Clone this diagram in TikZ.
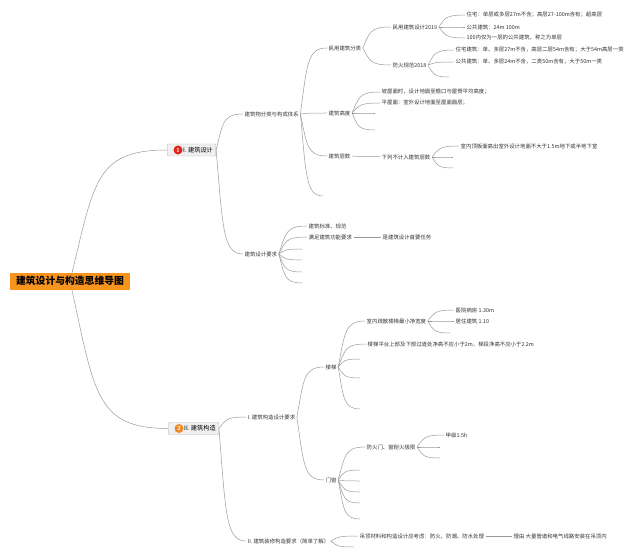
\documentclass[tikz,border=0pt]{standalone}
\usepackage{fontspec}
\newfontfamily\cjk{Noto Sans CJK SC}
\usetikzlibrary{calc}
\definecolor{naranja}{HTML}{F7941D}
\definecolor{rojo}{HTML}{E0281A}
\definecolor{naranjados}{HTML}{EE8A2A}
\definecolor{linea}{HTML}{9A9A9A}
\begin{document}
\begin{tikzpicture}[x=1pt, y=-1pt,
    hoja/.style={font=\cjk\fontsize{5.4}{6}\selectfont, text=black!80, inner sep=1.5pt, anchor=west},
    tema/.style={draw=gray!55, fill=gray!12, rounded corners=1pt, minimum height=12pt, inner xsep=3pt, inner ysep=0pt, anchor=west, font=\cjk\fontsize{6.2}{7}\selectfont},
    raiz/.style={fill=naranja, minimum width=120pt, minimum height=17pt, inner sep=0pt, font=\cjk\bfseries\fontsize{9.8}{11}\selectfont},
    bola/.style={circle, fill=#1, text=white, inner sep=0pt, minimum size=9pt, font=\sffamily\bfseries\fontsize{6}{6}\selectfont},
    rama/.style={draw=linea, line width=0.5pt},
    twig/.style={to path={let \p1=(\tikztostart), \p2=(\tikztotarget) in .. controls ({\x1+0.25*(\x2-\x1)},{\y1+0.75*(\y2-\y1)}) and ({\x1+0.25*(\x2-\x1)},\y2) .. (\tikztotarget)}}]
    \useasboundingbox (0,0) rectangle (640,556);
    % Raiz y temas
    \node[raiz] (raiz) at (70,281) {建筑设计与构造思维导图};
    \node[tema] (n1) at (167,150) {\hspace{13pt}I. 建筑设计};
    \node[bola=rojo] (uno) at (178,150) {1};
    \node[tema] (n2) at (168,428.5) {\hspace{13pt}II. 建筑构造};
    \node[bola=naranjados] (dos) at (179,428.5) {2};
    % Rama I
    \node[hoja] (a1) at (243,114) {建筑物分类与构成体系};
    \node[hoja] (a2) at (243,254) {建筑设计要求};
    \node[hoja] (b1) at (327,48) {民用建筑分类};
    \node[hoja] (b2) at (327,113) {建筑高度};
    \node[hoja] (b3) at (327,156) {建筑层数};
    \node[hoja] (c1) at (391,27) {民用建筑设计2019};
    \node[hoja] (c2) at (391,65) {防火规范2018};
    \node[hoja] (d1) at (465,15) {住宅：单层或多层27m不含；高层27-100m含有；超高层};
    \node[hoja] (d2) at (465,27) {公共建筑：24m 100m};
    \node[hoja] (d3) at (465,38) {100内仅为一层的公共建筑，称之为单层};
    \node[hoja] (d4) at (454,50) {住宅建筑：单、多层27m不含，高层二层54m含有；大于54m高层一类};
    \node[hoja] (d5) at (454,62) {公共建筑：单、多层24m不含，二类50m含有，大于50m一类};
    \node[hoja] (d6) at (380,92) {坡屋面时，设计地面至檐口与屋脊平均高度；};
    \node[hoja] (d7) at (380,103) {平屋面：室外设计地面至屋面面层；};
    \node[hoja] (c3) at (380,157) {下列不计入建筑层数};
    \node[hoja] (d8) at (459,146) {室内顶板面高出室外设计地面不大于1.5m地下或半地下室};
    \node[hoja] (b4) at (307,226) {建筑标准、规范};
    \node[hoja] (b5) at (307,237) {满足建筑功能要求};
    \node[hoja] (c4) at (381,237) {是建筑设计首要任务};
    % Rama II
    \node[hoja] (a3) at (246,417) {I. 建筑构造设计要求};
    \node[hoja] (a4) at (246,541) {II. 建筑装修构造要求（简单了解）};
    \node[hoja] (b6) at (324,367) {楼梯};
    \node[hoja] (b7) at (324,480) {门窗};
    \node[hoja] (c5) at (365,321) {室内疏散楼梯最小净宽度};
    \node[hoja] (c6) at (366,344) {楼梯平台上部及下部过道处净高不应小于2m，梯段净高不应小于2.2m};
    \node[hoja] (d9) at (454,310) {医院病房 1.30m};
    \node[hoja] (d10) at (454,321) {居住建筑 1.10};
    \node[hoja] (c7) at (365,447) {防火门、窗耐火极限};
    \node[hoja] (d11) at (444,435) {甲级1.5h};
    \node[hoja] (c8) at (358,536) {吊顶材料和构造设计应考虑：防火、防潮、防水处理};
    \node[hoja] (d12) at (512,536) {理由 大量管道和电气线路安装在吊顶内};
    % Ramas vacias
    \coordinate (e1) at (323,196);
    \coordinate (e2) at (449,77);
    \coordinate (e3) at (375,113);
    \coordinate (e4) at (375,130);
    \coordinate (e5) at (453,157);
    \coordinate (e6) at (453,168);
    \foreach \n/\y in {7/249,8/260,9/272,10/283} \coordinate (e\n) at (302,\y);
    \foreach \n/\y in {11/359,12/378,13/409} \coordinate (e\n) at (360,\y);
    \coordinate (e14) at (450,333);
    \foreach \n/\y in {15/470,16/481,17/492,18/503,19/519} \coordinate (e\n) at (360,\y);
    \coordinate (e20) at (440,447);
    \coordinate (e21) at (440,458);
    \coordinate (e22) at (354,547);
    % Conectores
    \draw[rama] (raiz.center) to[twig] (n1.west);
    \draw[rama] (raiz.center) to[twig] (n2.west);
    \foreach \h in {a1,a2} \draw[rama] (n1.east) to[twig] (\h.west);
    \foreach \h in {a3,a4} \draw[rama] (n2.east) to[twig] (\h.west);
    \foreach \h in {b1.west,b2.west,b3.west,e1} \draw[rama] (a1.east) to[twig] (\h);
    \foreach \h in {c1,c2} \draw[rama] (b1.east) to[twig] (\h.west);
    \foreach \h in {d1,d2,d3} \draw[rama] (c1.east) to[twig] (\h.west);
    \foreach \h in {d4.west,d5.west,e2} \draw[rama] (c2.east) to[twig] (\h);
    \foreach \h in {d6.west,d7.west,e3,e4} \draw[rama] (b2.east) to[twig] (\h);
    \draw[rama] (b3) -- (c3);
    \foreach \h in {d8.west,e5,e6} \draw[rama] (c3.east) to[twig] (\h);
    \foreach \h in {b4.west,b5.west,e7,e8,e9,e10} \draw[rama] (a2.east) to[twig] (\h);
    \draw[rama] (b5) -- (c4);
    \foreach \h in {b6,b7} \draw[rama] (a3.east) to[twig] (\h.west);
    \foreach \h in {c5.west,c6.west,e11,e12,e13} \draw[rama] (b6.east) to[twig] (\h);
    \foreach \h in {d9.west,d10.west,e14} \draw[rama] (c5.east) to[twig] (\h);
    \foreach \h in {c7.west,e15,e16,e17,e18,e19} \draw[rama] (b7.east) to[twig] (\h);
    \foreach \h in {d11.west,e20,e21} \draw[rama] (c7.east) to[twig] (\h);
    \foreach \h in {c8.west,e22} \draw[rama] (a4.east) to[twig] (\h);
    \draw[rama] (c8) -- (d12);
\end{tikzpicture}
\end{document}
